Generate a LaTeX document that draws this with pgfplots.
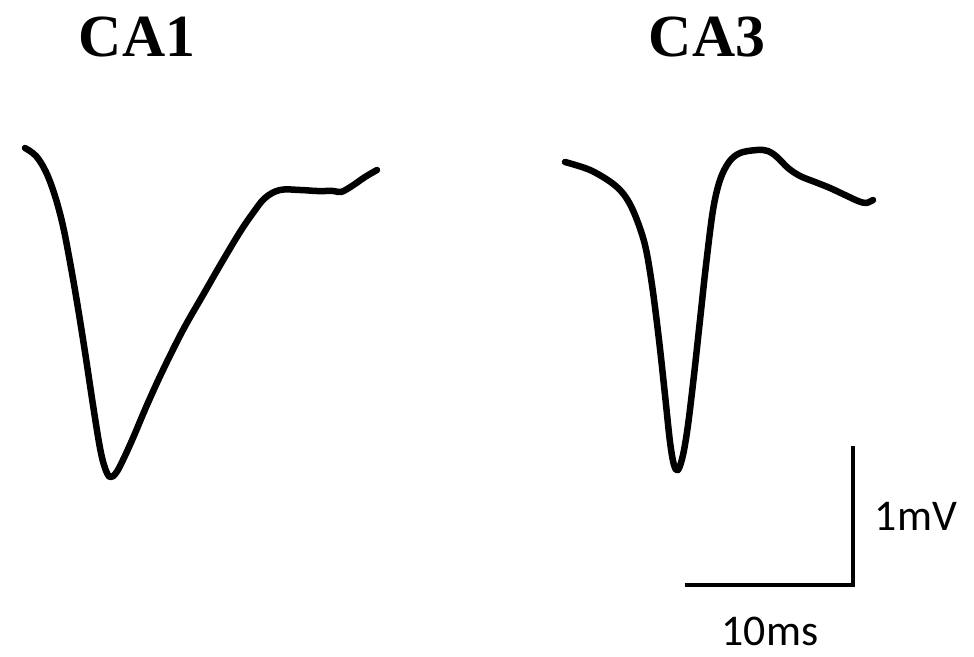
\documentclass[border=0pt]{standalone}
\usepackage{pgfplots}
\pgfplotsset{compat=1.18}
\usepackage{fontspec}
\setmainfont{Liberation Serif}
\newfontfamily\calibri{Carlito}
\begin{document}
\begin{tikzpicture}
\begin{axis}[
  scale only axis, width=974bp, height=657bp,
  xmin=0, xmax=974, ymin=0, ymax=657, y dir=reverse,
  hide axis, clip=false,
]
\path (rel axis cs:0,0) rectangle (rel axis cs:1,1);
% CA1 trace
\addplot[black, line width=6.5bp, smooth, tension=0.6, line cap=round, line join=round] coordinates {
(25,148) (36,156) (46,172) (55,196) (63,226) (70,262) (77,302) (85,352) (93,405) (100,448) (105,468) (110,477) (116,473) (123,460)
(133,438) (147,405) (163,370) (183,330) (203,295) (222,262) (240,232) (253,213) (265,198) (280,190)
(300,190) (317,191) (333,191) (341,192) (352,186) (365,177) (377,170)
};
% CA3 trace
\addplot[black, line width=6.5bp, smooth, tension=0.55, line cap=round, line join=round] coordinates {
(565,162) (590,170) (612,183) (625,196) (635,215) (645,245) (652,285) (659,340) (665,395) (670,442) (674,465) (678,470)
(683,455) (688,425) (694,375) (700,320) (706,265) (713,210) (720,180) (729,162) (740,153) (757,150) (768,151)
(777,157) (788,168) (800,176) (815,182) (830,188) (845,195) (858,201) (866,203) (873,200)
};
% scale bar
\addplot[black, line width=3.5bp] coordinates {(685,585) (853,585) (853,446)};
\node[font=\fontsize{60}{60}\selectfont\bfseries, anchor=base] at (axis cs:137,57) {CA1};
\node[font=\fontsize{60}{60}\selectfont\bfseries, anchor=base] at (axis cs:707,57) {CA3};
\node[font=\calibri\fontsize{44}{44}\selectfont, anchor=base, inner sep=0pt] at (axis cs:916,530) {1mV};
\node[font=\calibri\fontsize{44}{44}\selectfont, anchor=base, inner sep=0pt] at (axis cs:770,645) {10ms};
\end{axis}
\end{tikzpicture}
\end{document}
